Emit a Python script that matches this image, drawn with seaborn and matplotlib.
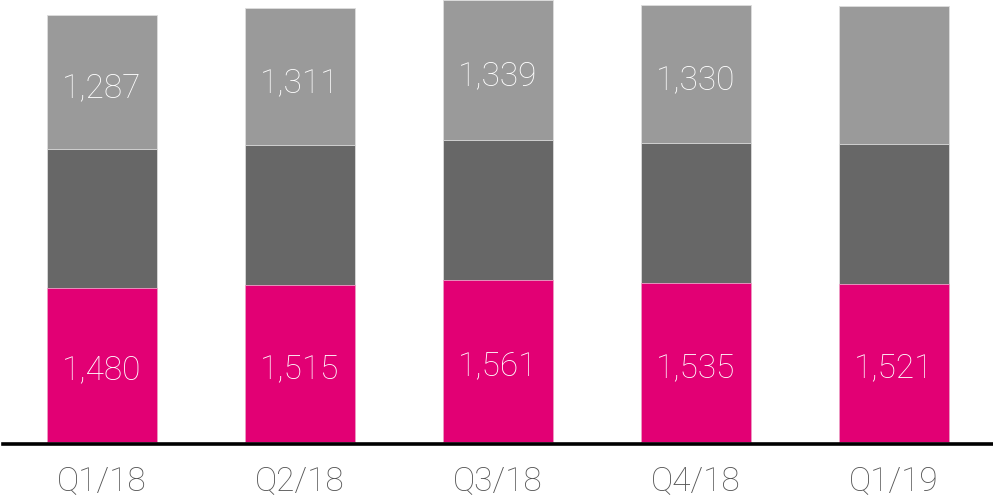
import numpy as np
import pandas as pd
import seaborn as sns
import matplotlib.pyplot as plt

# Data
quarters = ['Q1/18', 'Q2/18', 'Q3/18', 'Q4/18', 'Q1/19']
magenta_vals = [1480, 1515, 1561, 1535, 1521]
dark_vals = [1343, 1347, 1350, 1343, 1347]
light_vals = [1287, 1311, 1339, 1330, 1333]
light_shown = [True, True, True, True, False]

MAGENTA = '#E20074'
DARK = '#676767'
LIGHT = '#9A9A9A'

sns.set_style('white')
plt.rcParams['font.family'] = ['Roboto', 'DejaVu Sans']
plt.rcParams['font.weight'] = 'light'

df = pd.DataFrame({'quarter': quarters,
                   'magenta': magenta_vals,
                   'dark': dark_vals,
                   'light': light_vals})
df['mid'] = df['magenta'] + df['dark']
df['total'] = df['mid'] + df['light']

fig = plt.figure(figsize=(9.93, 4.98), dpi=100)
ax = fig.add_axes([3 / 993, 54 / 498, 990 / 993, 444 / 498])

bw = 110 / 198
sns.barplot(data=df, x='quarter', y='total', color=LIGHT, width=bw,
            saturation=1, edgecolor='#dddddd', linewidth=0.6, ax=ax)
sns.barplot(data=df, x='quarter', y='mid', color=DARK, width=bw,
            saturation=1, edgecolor='#dddddd', linewidth=0.6, ax=ax)
sns.barplot(data=df, x='quarter', y='magenta', color=MAGENTA, width=bw,
            saturation=1, edgecolor='#f0a0c8', linewidth=0.6, ax=ax)

s = 0.1039  # px per unit
ax.set_ylim(-2 / s, 442 / s)
ax.set_xlim(-0.5, 4.5)

for i, row in df.iterrows():
    ax.text(i, row['magenta'] / 2 - 20, f"{row['magenta']:,}", ha='center',
            va='center_baseline', color='white', fontsize=24, fontweight='light')
    if light_shown[i]:
        ax.text(i, row['mid'] + row['light'] / 2 - 30, f"{row['light']:,}",
                ha='center', va='center_baseline', color='white', fontsize=24,
                fontweight='light')

sns.despine(ax=ax, left=True, top=True, right=True)
ax.spines['bottom'].set_linewidth(2.6)
ax.spines['bottom'].set_color('black')
ax.spines['bottom'].set_zorder(5)
ax.set_yticks([])
ax.set_xlabel('')
ax.set_ylabel('')
ax.tick_params(axis='x', length=0, pad=15, labelsize=24, labelcolor='#555555')
for lab in ax.get_xticklabels():
    lab.set_fontweight('light')

fig.savefig('out.png', dpi=100)
